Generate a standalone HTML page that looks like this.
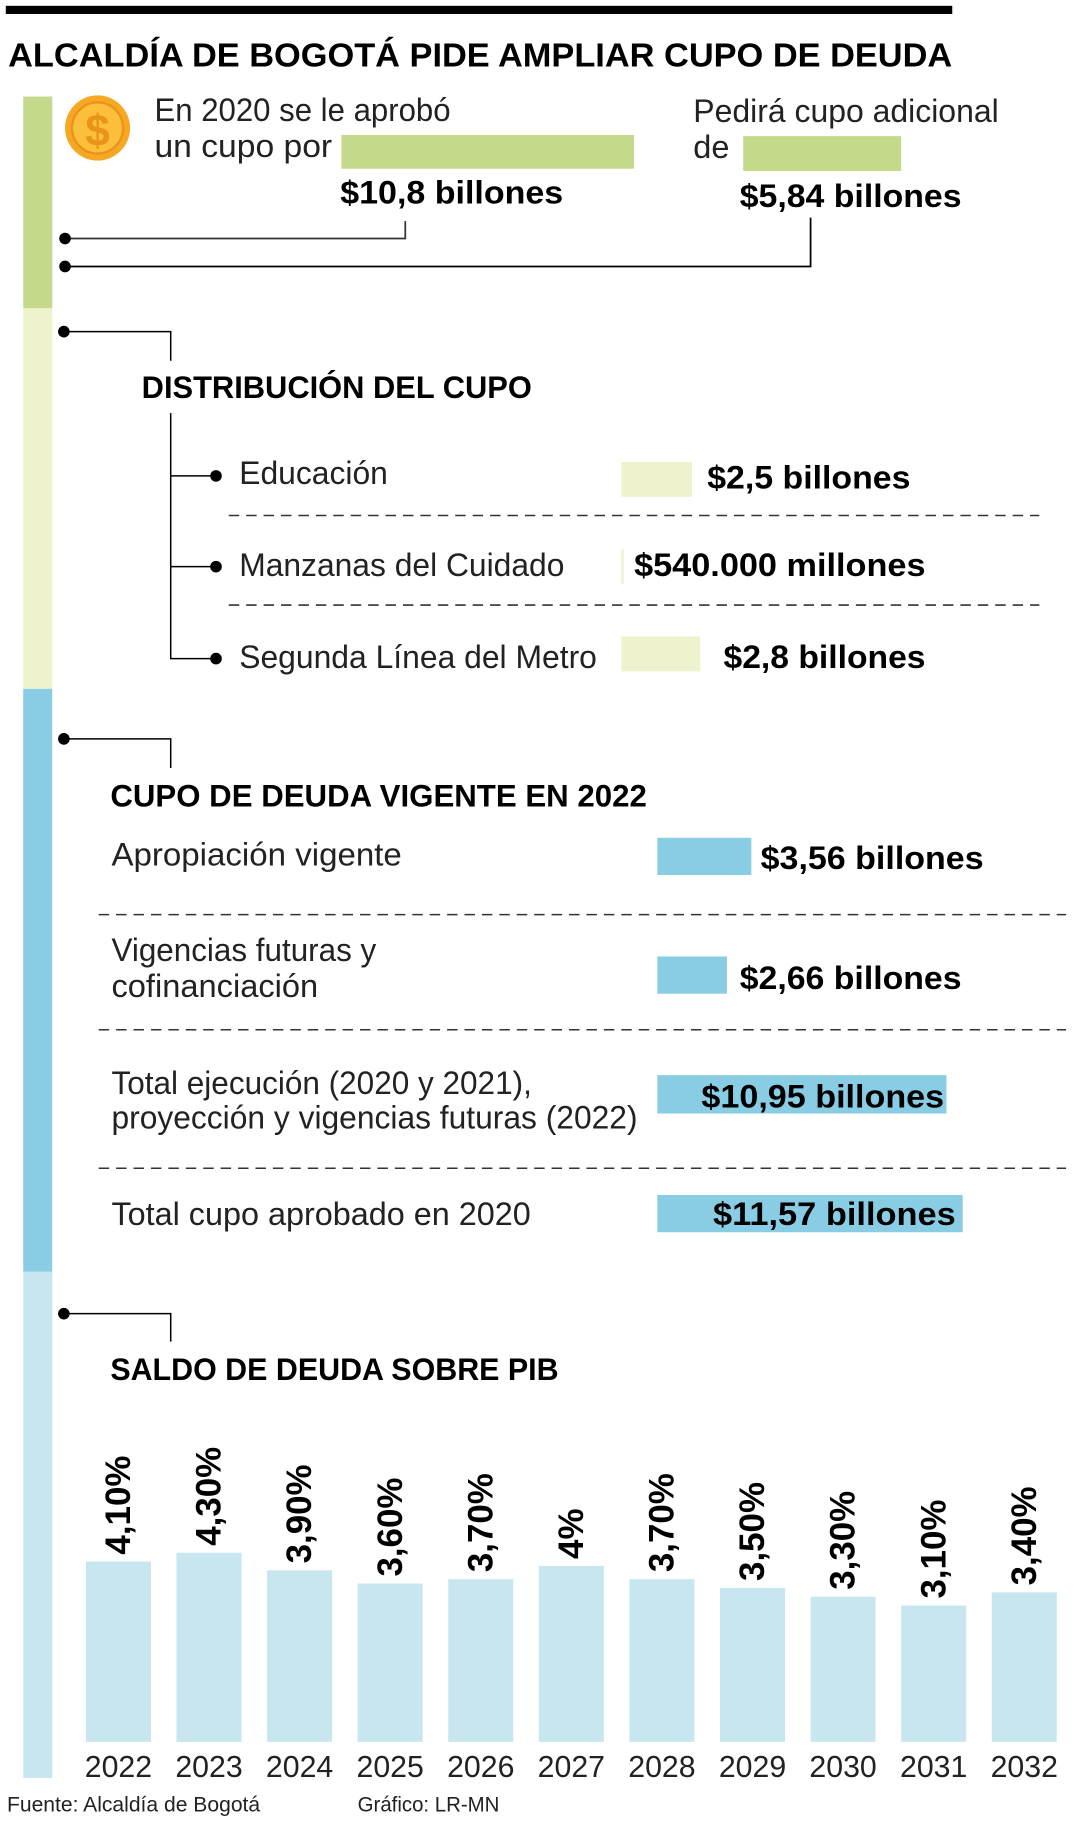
<!DOCTYPE html>
<html><head><meta charset="utf-8"><style>
html,body{margin:0;padding:0;background:#fff;}
svg{display:block;}
text{font-family:"Liberation Sans",sans-serif;fill:#1a1a1a;}
.b{font-weight:bold;fill:#000;}
.l{fill:#222;}
</style></head><body>
<svg id="chart" width="1080" height="1821" viewBox="0 0 930 1565" preserveAspectRatio="none" xmlns="http://www.w3.org/2000/svg">
<rect x="5" y="5" width="815" height="7" fill="#000"/>
<text class="b" x="7" y="57" font-size="29" textLength="813" lengthAdjust="spacingAndGlyphs">ALCALDÍA DE BOGOTÁ PIDE AMPLIAR CUPO DE DEUDA</text>

<rect x="20" y="83" width="25" height="182" fill="#c5d98a"/>
<rect x="20" y="265" width="25" height="327" fill="#eef3cd"/>
<rect x="20" y="592" width="25" height="501" fill="#88cde4"/>
<rect x="20" y="1093" width="25" height="435" fill="#c8e6f0"/>

<g>
<circle cx="84" cy="110" r="28" fill="#f7a823"/>
<circle cx="84" cy="110" r="22" fill="#fbbf3c" stroke="#e8941a" stroke-width="2"/>
<text x="84" y="125" font-size="38" text-anchor="middle" style="fill:#e8941a;font-weight:bold">$</text>
</g>
<text class="l" x="133" y="104" font-size="28" textLength="255" lengthAdjust="spacingAndGlyphs">En 2020 se le aprobó</text>
<text class="l" x="133" y="135" font-size="28" textLength="153" lengthAdjust="spacingAndGlyphs">un cupo por</text>
<rect x="294" y="116" width="252" height="29" fill="#c5d98a"/>
<text class="b" x="293" y="175" font-size="28" textLength="192" lengthAdjust="spacingAndGlyphs">$10,8 billones</text>
<text class="l" x="597" y="105" font-size="28" textLength="263" lengthAdjust="spacingAndGlyphs">Pedirá cupo adicional</text>
<text class="l" x="597" y="136" font-size="28">de</text>
<rect x="640" y="117" width="136" height="30" fill="#c5d98a"/>
<text class="b" x="637" y="178" font-size="28" textLength="191" lengthAdjust="spacingAndGlyphs">$5,84 billones</text>
<g fill="none" stroke="#333" stroke-width="1.5">
<polyline points="56,205 349,205 349,190"/>
<polyline points="56,229 698,229 698,187" stroke="#000"/>
</g>
<circle cx="56" cy="205" r="5" fill="#000"/><circle cx="56" cy="229" r="5" fill="#000"/>

<g fill="none" stroke="#000" stroke-width="1.3">
<polyline points="55,285 147,285 147,310"/>
<polyline points="147,355 147,566 186,566"/>
<line x1="147" y1="409" x2="186" y2="409"/>
<line x1="147" y1="487" x2="186" y2="487"/>
</g>
<circle cx="55" cy="285" r="5" fill="#000"/>
<circle cx="186" cy="409" r="5" fill="#000"/><circle cx="186" cy="487" r="5" fill="#000"/><circle cx="186" cy="566" r="5" fill="#000"/>
<text class="b" x="122" y="342" font-size="27" textLength="336" lengthAdjust="spacingAndGlyphs">DISTRIBUCIÓN DEL CUPO</text>
<text class="l" x="206" y="416" font-size="28" textLength="128" lengthAdjust="spacingAndGlyphs">Educación</text>
<text class="l" x="206" y="495" font-size="28" textLength="280" lengthAdjust="spacingAndGlyphs">Manzanas del Cuidado</text>
<text class="l" x="206" y="574" font-size="28" textLength="308" lengthAdjust="spacingAndGlyphs">Segunda Línea del Metro</text>
<rect x="535" y="397" width="61" height="30" fill="#eef3cd"/>
<rect x="535" y="472" width="2" height="30" fill="#eef3cd"/>
<rect x="535" y="547" width="68" height="30" fill="#eef3cd"/>
<text class="b" x="609" y="420" font-size="28" textLength="175" lengthAdjust="spacingAndGlyphs">$2,5 billones</text>
<text class="b" x="546" y="495" font-size="28" textLength="251" lengthAdjust="spacingAndGlyphs">$540.000 millones</text>
<text class="b" x="623" y="574" font-size="28" textLength="174" lengthAdjust="spacingAndGlyphs">$2,8 billones</text>
<g stroke="#333" stroke-width="1.3" stroke-dasharray="9,6">
<line x1="197" y1="443" x2="895" y2="443"/><line x1="197" y1="520" x2="895" y2="520"/>
</g>

<g fill="none" stroke="#000" stroke-width="1.3">
<polyline points="55,635 147,635 147,660"/>
</g>
<circle cx="55" cy="635" r="5" fill="#000"/>
<text class="b" x="95" y="693" font-size="27" textLength="462" lengthAdjust="spacingAndGlyphs">CUPO DE DEUDA VIGENTE EN 2022</text>
<text class="l" x="96" y="744" font-size="28" textLength="250" lengthAdjust="spacingAndGlyphs">Apropiación vigente</text>
<rect x="566" y="720" width="81" height="32" fill="#88cde4"/>
<text class="b" x="655" y="747" font-size="28" textLength="192" lengthAdjust="spacingAndGlyphs">$3,56 billones</text>
<text class="l" x="96" y="826" font-size="28" textLength="228" lengthAdjust="spacingAndGlyphs">Vigencias futuras y</text>
<text class="l" x="96" y="857" font-size="28" textLength="178" lengthAdjust="spacingAndGlyphs">cofinanciación</text>
<rect x="566" y="822" width="60" height="32" fill="#88cde4"/>
<text class="b" x="637" y="850" font-size="28" textLength="191" lengthAdjust="spacingAndGlyphs">$2,66 billones</text>
<text class="l" x="96" y="940" font-size="28" textLength="362" lengthAdjust="spacingAndGlyphs">Total ejecución (2020 y 2021),</text>
<text class="l" x="96" y="970" font-size="28" textLength="453" lengthAdjust="spacingAndGlyphs">proyección y vigencias futuras (2022)</text>
<rect x="566" y="924" width="249" height="33" fill="#88cde4"/>
<text class="b" x="604" y="952" font-size="28" textLength="209" lengthAdjust="spacingAndGlyphs">$10,95 billones</text>
<text class="l" x="96" y="1053" font-size="28" textLength="361" lengthAdjust="spacingAndGlyphs">Total cupo aprobado en 2020</text>
<rect x="566" y="1027" width="263" height="32" fill="#88cde4"/>
<text class="b" x="614" y="1053" font-size="28" textLength="209" lengthAdjust="spacingAndGlyphs">$11,57 billones</text>
<g stroke="#333" stroke-width="1.3" stroke-dasharray="9,6">
<line x1="85" y1="786" x2="918" y2="786"/><line x1="85" y1="885" x2="918" y2="885"/><line x1="85" y1="1004" x2="918" y2="1004"/>
</g>

<g fill="none" stroke="#000" stroke-width="1.3">
<polyline points="55,1129 147,1129 147,1153"/>
</g>
<circle cx="55" cy="1129" r="5" fill="#000"/>
<text class="b" x="95" y="1186" font-size="27" textLength="386" lengthAdjust="spacingAndGlyphs">SALDO DE DEUDA SOBRE PIB</text>
<g id="bars"></g>

<text class="l" x="6" y="1557" font-size="18" textLength="218" lengthAdjust="spacingAndGlyphs">Fuente: Alcaldía de Bogotá</text>
<text class="l" x="308" y="1557" font-size="18" textLength="122" lengthAdjust="spacingAndGlyphs">Gráfico: LR-MN</text>
</svg>
<script>
const years = ["2022","2023","2024","2025","2026","2027","2028","2029","2030","2031","2032"];
const values = [4.1,4.3,3.9,3.6,3.7,4.0,3.7,3.5,3.3,3.1,3.4];
const valueLabels = ["4,10%","4,30%","3,90%","3,60%","3,70%","4%","3,70%","3,50%","3,30%","3,10%","3,40%"];
const NS="http://www.w3.org/2000/svg";
const g=document.getElementById('bars');
const base=1497, perUnit=37.8, x0=74, step=78, bw=56;
function xPos(i){return x0+i*step;}
function yPos(v){return base-v*perUnit;}
years.forEach((yr,i)=>{
  const x=xPos(i), y=yPos(values[i]);
  const r=document.createElementNS(NS,'rect');
  r.setAttribute('x',x);r.setAttribute('y',y);r.setAttribute('width',bw);r.setAttribute('height',base-y);r.setAttribute('fill','#c8e6f0');
  
  
  g.appendChild(r);
  const t=document.createElementNS(NS,'text');
  t.textContent=valueLabels[i];
  t.setAttribute('class','b');t.setAttribute('font-size','30');
  t.setAttribute('transform','translate('+(x+bw/2+10)+','+(y-6)+') rotate(-90)');
  
  
  g.appendChild(t);
  const l=document.createElementNS(NS,'text');
  l.textContent=yr;
  l.setAttribute('class','l');l.setAttribute('font-size','26');l.setAttribute('text-anchor','middle');
  l.setAttribute('x',x+bw/2);l.setAttribute('y',1527);
  l.setAttribute('textLength','58');l.setAttribute('lengthAdjust','spacingAndGlyphs');
  
  
  g.appendChild(l);
});
</script>
</body></html>
